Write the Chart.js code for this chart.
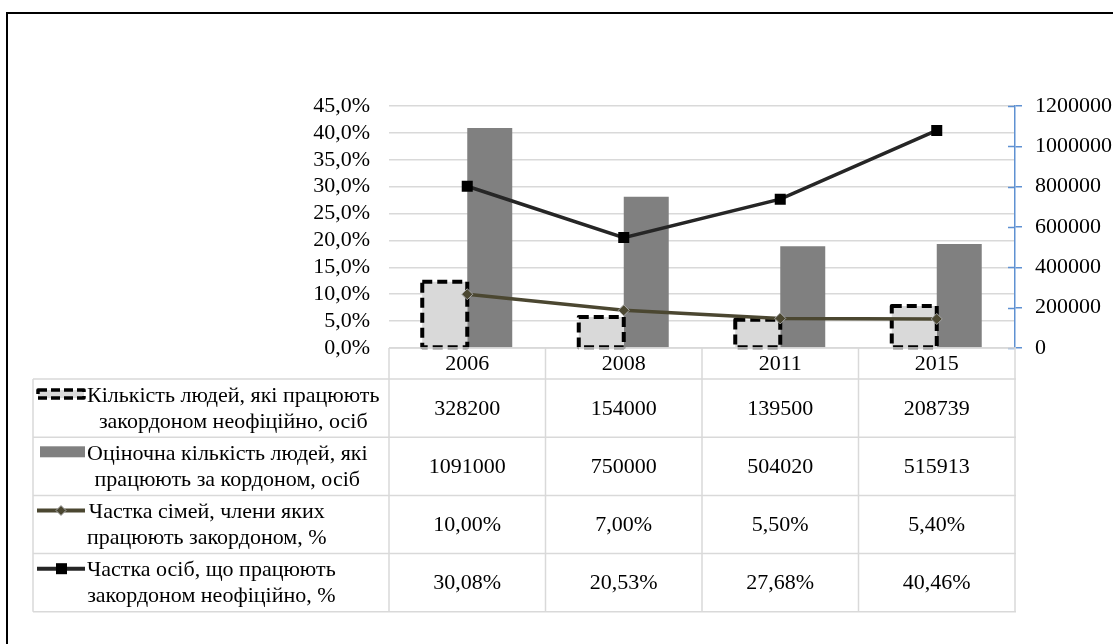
<!DOCTYPE html>
<html><head><meta charset="utf-8">
<script src="https://cdn.jsdelivr.net/npm/chart.js@4"></script>
<style>html,body{margin:0;padding:0;background:#fff}#wrap{width:1113px;height:644px;position:relative}</style>
</head><body><div id="wrap"><canvas id="c"></canvas></div>
<script>
const years = ['2006', '2008', '2011', '2015'];
const informalWorkers = [328200, 154000, 139500, 208739];
const estimatedWorkers = [1091000, 750000, 504020, 515913];
const familyShare = [10.00, 7.00, 5.50, 5.40];
const informalShare = [30.08, 20.53, 27.68, 40.46];
const leftAxisMax = 45, leftAxisStep = 5;
const rightAxisMax = 1200000, rightAxisStep = 200000;
const seriesNames = [
  ['Кількість людей, які працюють', 'закордоном неофіційно, осіб'],
  ['Оціночна кількість людей, які', 'працюють за кордоном, осіб'],
  ['Частка сімей, члени яких', 'працюють закордоном, %'],
  ['Частка осіб, що працюють', 'закордоном неофіційно, %']
];

const FONT = '"Liberation Serif","Times New Roman",serif';
const C_DASHFILL = '#d9d9d9', C_BAR = '#808080', C_OLIVE = '#4b4731', C_BLACK = '#262626';
const C_GRID = '#d9d9d9', C_AXIS = '#5f91d2';
const pct2 = v => v.toFixed(2).replace('.', ',') + '%';
const tableRows = [
  informalWorkers.map(String),
  estimatedWorkers.map(String),
  familyShare.map(pct2),
  informalShare.map(pct2)
];

function dashedRect(ctx, x, y, w, h, lw, dash) {
  ctx.save();
  ctx.setLineDash(dash);
  ctx.lineWidth = lw;
  ctx.strokeStyle = '#000';
  ctx.lineJoin = 'round';
  ctx.lineCap = 'butt';
  ctx.strokeRect(x, y, w, h);
  ctx.restore();
}

const tablePlugin = {
  id: 'tbl',
  afterDatasetDraw(chart, args) {
    if (args.index !== 0) return;
    const ctx = chart.ctx;
    args.meta.data.forEach(bar => {
      const p = bar.getProps(['x', 'y', 'base', 'width'], true);
      dashedRect(ctx, p.x - p.width / 2, p.y, p.width, p.base - p.y, 4, [10, 5]);
    });
  },
  afterDraw(chart) {
    const ctx = chart.ctx, ca = chart.chartArea, xs = chart.scales.x, y1 = chart.scales.y1;
    ctx.save();
    // inner half of right-axis tick marks
    ctx.strokeStyle = C_AXIS; ctx.lineWidth = 1.5;
    y1.ticks.forEach(t => {
      const py = Math.round(y1.getPixelForValue(t.value)) + 0.5;
      ctx.beginPath(); ctx.moveTo(ca.right - 7, py); ctx.lineTo(ca.right, py); ctx.stroke();
    });
    // frame
    ctx.strokeStyle = '#000'; ctx.lineWidth = 2;
    ctx.strokeRect(7, 13, 3000, 3000);
    // table grid
    const n = years.length, cw = (ca.right - ca.left) / n;
    const top = ca.bottom, headH = 31, rowH = 58.2, tLeft = 33;
    const bottom = top + headH + rowH * 4;
    ctx.strokeStyle = C_GRID; ctx.lineWidth = 1.5;
    ctx.beginPath();
    ctx.moveTo(ca.left, top); ctx.lineTo(ca.right + 1, top);
    for (let r = 0; r <= 4; r++) {
      const yy = top + headH + rowH * r;
      ctx.moveTo(tLeft, yy); ctx.lineTo(ca.right + 1, yy);
    }
    for (let i = 0; i <= n; i++) {
      const xx = ca.left + cw * i;
      ctx.moveTo(xx, top); ctx.lineTo(xx, bottom);
    }
    ctx.moveTo(tLeft, top + headH); ctx.lineTo(tLeft, bottom);
    ctx.stroke();
    // header years
    ctx.fillStyle = '#000';
    ctx.font = '22px ' + FONT;
    ctx.textAlign = 'center'; ctx.textBaseline = 'middle';
    years.forEach((yr, i) => ctx.fillText(yr, xs.getPixelForValue(i), top + headH / 2 + 1));
    // rows
    for (let r = 0; r < 4; r++) {
      const cy = top + headH + rowH * r + rowH / 2;
      tableRows[r].forEach((v, i) => ctx.fillText(v, xs.getPixelForValue(i), cy + 1));
      const lines = seriesNames[r];
      const w = Math.max(...lines.map(l => ctx.measureText(l).width));
      const bx = 87 + w / 2;
      ctx.fillText(lines[0], bx, cy - 12);
      ctx.fillText(lines[1], bx, cy + 14);
      const sy = cy - 14;
      if (r === 0) {
        ctx.fillStyle = C_DASHFILL; ctx.fillRect(38, sy - 4, 46, 8);
        dashedRect(ctx, 38, sy - 4, 46, 8, 3.5, [9, 4]);
      } else if (r === 1) {
        ctx.fillStyle = C_BAR; ctx.fillRect(40, sy - 6, 45, 11);
      } else {
        const col = r === 2 ? C_OLIVE : C_BLACK;
        ctx.strokeStyle = col; ctx.lineWidth = 4;
        ctx.beginPath(); ctx.moveTo(37, sy); ctx.lineTo(85, sy); ctx.stroke();
        if (r === 2) {
          ctx.fillStyle = C_OLIVE; ctx.strokeStyle = '#a6a6a6'; ctx.lineWidth = 1;
          ctx.beginPath(); ctx.moveTo(61, sy - 5); ctx.lineTo(66, sy); ctx.lineTo(61, sy + 5); ctx.lineTo(56, sy); ctx.closePath();
          ctx.fill(); ctx.stroke();
        } else {
          ctx.fillStyle = '#000'; ctx.fillRect(56, sy - 5.5, 11, 11);
        }
      }
      ctx.fillStyle = '#000';
    }
    ctx.restore();
  }
};

Chart.defaults.font.family = FONT;
new Chart(document.getElementById('c'), {
  data: {
    labels: years,
    datasets: [
      { type: 'bar', label: seriesNames[0].join(' '), data: informalWorkers, yAxisID: 'y1',
        backgroundColor: C_DASHFILL, borderWidth: 0, categoryPercentage: 0.575, barPercentage: 1, order: 2 },
      { type: 'bar', label: seriesNames[1].join(' '), data: estimatedWorkers, yAxisID: 'y1',
        backgroundColor: C_BAR, borderWidth: 0, categoryPercentage: 0.575, barPercentage: 1, order: 2 },
      { type: 'line', label: seriesNames[2].join(' '), data: familyShare, yAxisID: 'y',
        borderColor: C_OLIVE, borderWidth: 3.5, tension: 0, pointStyle: 'rectRot', pointRadius: 5.5,
        pointBackgroundColor: C_OLIVE, pointBorderColor: '#a6a6a6', pointBorderWidth: 1, order: 0 },
      { type: 'line', label: seriesNames[3].join(' '), data: informalShare, yAxisID: 'y',
        borderColor: C_BLACK, borderWidth: 3.5, tension: 0, pointStyle: 'rect', pointRadius: 7.8,
        pointBackgroundColor: '#000', pointBorderColor: '#000', pointBorderWidth: 0, order: 0 }
    ]
  },
  options: {
    responsive: true, maintainAspectRatio: false, animation: false,
    layout: { padding: { top: 106, bottom: 296, left: 0, right: 0 } },
    plugins: { legend: { display: false }, tooltip: { enabled: false } },
    scales: {
      x: { type: 'category', display: false, offset: true },
      y: { position: 'left', min: 0, max: leftAxisMax,
        ticks: { stepSize: leftAxisStep, autoSkip: false, padding: 19, color: '#000', font: { family: FONT, size: 22 },
          callback: v => Number(v).toFixed(1).replace('.', ',') + '%' },
        grid: { color: C_GRID, lineWidth: 1.5, drawTicks: false },
        border: { display: false },
        afterFit(s) { s.width = 389; } },
      y1: { position: 'right', min: 0, max: rightAxisMax,
        ticks: { stepSize: rightAxisStep, autoSkip: false, padding: 13, color: '#000', font: { family: FONT, size: 22 },
          callback: v => String(v) },
        grid: { drawOnChartArea: false, color: C_AXIS, lineWidth: 1.5, tickLength: 7 },
        border: { display: true, color: C_AXIS, width: 1.5 },
        afterFit(s) { s.width = 98; } }
    }
  },
  plugins: [tablePlugin]
});
</script></body></html>
